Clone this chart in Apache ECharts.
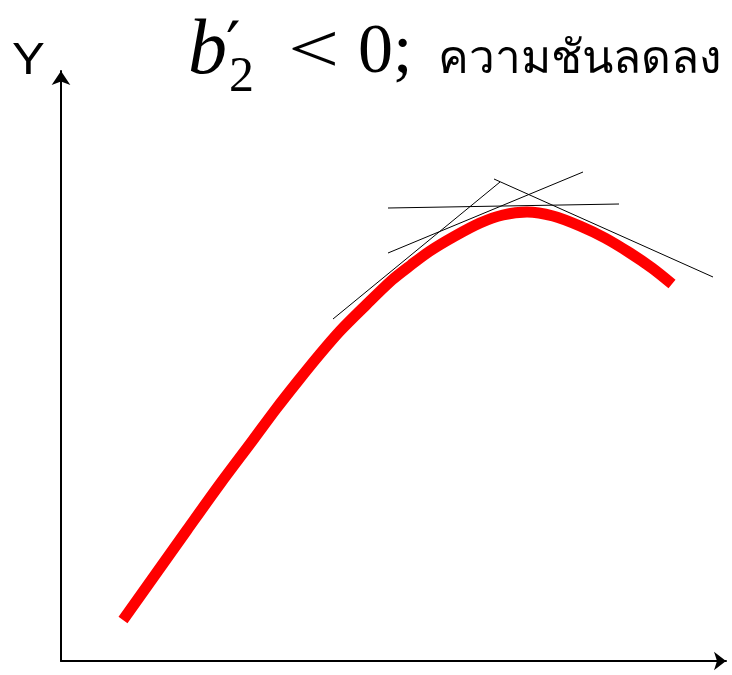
<!DOCTYPE html>
<html>
<head>
<meta charset="utf-8">
<script src="https://cdn.jsdelivr.net/npm/echarts@6/dist/echarts.min.js"></script>
<style>
html,body{margin:0;padding:0;background:#fff;}
#chart{width:732px;height:675px;}
</style>
</head>
<body>
<div id="chart"></div>
<script>
// curve (x right from the Y axis, y up from the X axis)
var curveX = [62, 94, 126, 159, 192, 215, 237, 259, 279, 305, 331, 350, 369, 394, 419, 442, 466, 492, 519, 544, 569, 591, 611];
var curveY = [41, 86, 131, 177, 221, 252, 280, 307, 330, 356, 381, 396, 410, 425, 438, 446, 449, 445, 435, 423, 408, 393, 377];

// tangent lines, start and end point of each
var tangentA = [[272, 342], [439, 479]];
var tangentB = [[433, 482], [652, 384]];
var tangentC = [[327, 408], [522, 489]];
var tangentD = [[327, 453], [558, 457]];

var titleMath = ["b", "\u2032", "2", "<", "0;"];
var titleThai = "ความชันลดลง";
var yName = "Y";

var chart = echarts.init(document.getElementById("chart"));

var curve = [];
for (var i = 0; i < curveX.length; i++) {
    curve.push([curveX[i], curveY[i]]);
}

function tangent(pts) {
    return {
        type: "line",
        data: pts,
        symbol: "none",
        lineStyle: {color: "#000", width: 1},
        silent: true,
        z: 3
    };
}

var option = {
    animation: false,
    grid: {left: 61, right: 6, top: 71, bottom: 14},
    xAxis: {
        type: "value",
        min: 0,
        max: 665,
        axisLine: {
            show: true,
            symbol: ["none", "arrow"],
            symbolSize: [14, 12],
            lineStyle: {color: "#000", width: 2}
        },
        axisTick: {show: false},
        axisLabel: {show: false},
        splitLine: {show: false}
    },
    yAxis: {
        type: "value",
        min: 0,
        max: 590,
        axisLine: {
            show: true,
            symbol: ["none", "arrow"],
            symbolSize: [14, 14],
            lineStyle: {color: "#000", width: 2}
        },
        axisTick: {show: false},
        axisLabel: {show: false},
        splitLine: {show: false}
    },
    series: [
        {
            type: "line",
            data: curve,
            smooth: 0.3,
            symbol: "none",
            lineStyle: {color: "#ff0000", width: 11, cap: "butt"},
            z: 2
        },
        tangent(tangentA),
        tangent(tangentB),
        tangent(tangentC),
        tangent(tangentD)
    ],
    graphic: [
        {type: "text", x: 12, y: 40, scaleX: 1.12, style: {text: yName, font: "44px 'Liberation Sans'", fill: "#000"}},
        {type: "text", x: 188, y: 13, style: {text: titleMath[0], font: "italic 78px 'Liberation Serif'", fill: "#000"}},
        {type: "text", x: 226, y: 18, style: {text: titleMath[1], font: "64px 'DejaVu Sans'", fill: "#000"}},
        {type: "text", x: 229, y: 53, style: {text: titleMath[2], font: "50px 'Liberation Serif'", fill: "#000"}},
        {type: "text", x: 288, y: 19, scaleX: 1.3, style: {text: titleMath[3], font: "70px 'Liberation Serif'", fill: "#000"}},
        {type: "text", x: 358, y: 19, style: {text: titleMath[4], font: "70px 'Liberation Serif'", fill: "#000"}},
        {type: "text", x: 438, y: 37, style: {text: titleThai, font: "46px 'Noto Sans', sans-serif", fill: "#000"}}
    ]
};
chart.setOption(option);
</script>
</body>
</html>
